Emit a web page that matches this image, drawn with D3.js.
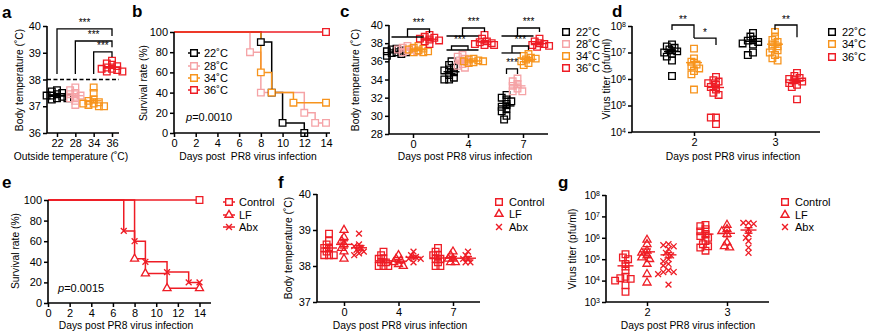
<!DOCTYPE html>
<html lang="en">
<head>
<meta charset="UTF-8">
<title>Housing temperature and PR8 infection</title>
<script src="https://d3js.org/d3.v7.min.js"></script>
<style>
  body { margin: 0; background: #fff; }
  svg { display: block; font-family: "Liberation Sans", Arial, Helvetica, sans-serif; }
</style>
</head>
<body>
<svg id="fig" width="869" height="335"></svg>
<script>
const FONT = '"Liberation Sans", Arial, Helvetica, sans-serif';
const BLACK = "#000000", PINK = "#f5a3a6", ORANGE = "#f7941d", RED = "#ee1c25";

// ---- a: body temperature vs housing temperature ----
const aHousing = ["22", "28", "34", "36"];
const aBody22 = [37.6, 37.55, 37.5, 37.45, 37.4, 37.4, 37.35, 37.3, 37.3, 37.25];
const aBody28 = [37.7, 37.6, 37.5, 37.45, 37.4, 37.35, 37.3, 37.2, 37.05];
const aBody34 = [37.7, 37.5, 37.25, 37.2, 37.15, 37.1, 37.1, 37.05, 37.0, 37.0];
const aBody36 = [38.7, 38.6, 38.55, 38.5, 38.45, 38.4, 38.4, 38.35, 38.3, 38.3];

// ---- b: survival by housing temperature ----
const bDays22 = [0, 8, 9, 10, 12],       bSurv22 = [100, 90, 40, 10, 0];
const bDays28 = [0, 7, 8, 12, 13, 14],   bSurv28 = [100, 80, 40, 20, 10, 10];
const bDays34 = [0, 8, 9, 11, 14],       bSurv34 = [100, 60, 40, 30, 30];
const bDays36 = [0, 14],                 bSurv36 = [100, 100];
const tempLabels = ["22˚C", "28˚C", "34˚C", "36˚C"];

// ---- c: body temperature after infection (days 0, 4, 7) ----
const cDays = [0, 4, 7];
const cBody22 = [[37.4, 37.3, 37.2, 37.1, 37.0, 37.0, 36.9, 36.8, 36.6],
                 [36.0, 35.6, 35.3, 35.1, 35.0, 34.8, 34.5, 34.2, 34.0, 34.0],
                 [32.3, 32.0, 31.8, 31.6, 31.3, 31.0, 30.8, 30.5, 30.0, 29.6]];
const cBody28 = [[37.7, 37.5, 37.4, 37.3, 37.2, 37.1, 37.0],
                 [36.7, 36.5, 36.3, 36.1, 35.9, 35.7, 35.5, 35.3],
                 [34.1, 33.8, 33.5, 33.3, 33.0, 32.7, 32.7]];
const cBody34 = [[37.7, 37.5, 37.4, 37.3, 37.2, 37.1, 37.0, 37.0],
                 [36.3, 36.2, 36.1, 36.0, 36.0, 35.9, 35.8],
                 [36.8, 36.6, 36.4, 36.3, 36.2, 36.0, 35.8, 35.6]];
const cBody36 = [[38.9, 38.7, 38.6, 38.5, 38.4, 38.3, 38.2, 37.9],
                 [38.9, 38.5, 38.2, 38.1, 38.0, 37.9, 37.8, 37.8],
                 [38.5, 38.2, 38.0, 37.9, 37.8, 37.7, 37.6]];

// ---- d: lung virus titer (days 2, 3) ----
const dDays = [2, 3];
const dLabels = ["22˚C", "34˚C", "36˚C"];
const dTiter22 = [[2e7, 1.7e7, 1.5e7, 1.3e7, 1.1e7, 1e7, 9e6, 7e6, 5e6, 1.3e6],
                  [5.5e7, 4e7, 3e7, 2.8e7, 2.5e7, 2.2e7, 2e7, 1e7, 8e6]];
const dTiter34 = [[1.4e7, 6e6, 4.5e6, 3.5e6, 3e6, 2.5e6, 2e6, 1.5e6, 4e5],
                  [6e7, 4e7, 3e7, 2.5e7, 2e7, 1.7e7, 1.4e7, 1.2e7, 1e7, 8e6, 6e6, 5e6]];
const dTiter36 = [[1.2e6, 9e5, 8e5, 7e5, 6e5, 5e5, 4e5, 3e5, 2.5e5, 3.5e4, 3.5e4, 2e4],
                  [1.7e6, 1.3e6, 1.1e6, 1e6, 9e5, 8e5, 7e5, 6e5, 5e5, 1.7e5]];

// ---- e: survival, Control / LF / Abx ----
const treatLabels = ["Control", "LF", "Abx"];
const eDaysControl = [0, 14],                 eSurvControl = [100, 100];
const eDaysLF = [0, 8, 9, 11, 14],            eSurvLF = [100, 42.9, 28.6, 14.3, 14.3];
const eDaysAbx = [0, 7, 8, 9, 11, 13, 14],    eSurvAbx = [100, 70, 60, 40, 30, 20, 20];

// ---- f: body temperature, Control / LF / Abx ----
const fDays = [0, 4, 7];
const fBodyControl = [[38.9, 38.7, 38.6, 38.5, 38.5, 38.4, 38.3, 38.3, 38.3],
                      [38.4, 38.3, 38.2, 38.2, 38.1, 38.1, 38.0, 38.0, 38.0],
                      [38.5, 38.4, 38.3, 38.3, 38.2, 38.2, 38.1, 38.0, 38.0]];
const fBodyLF = [[39.0, 38.8, 38.7, 38.6, 38.5, 38.4, 38.2],
                 [38.3, 38.2, 38.15, 38.1, 38.05, 38.0],
                 [38.4, 38.3, 38.2, 38.2, 38.1, 38.1]];
const fBodyAbx = [[38.9, 38.6, 38.55, 38.5, 38.45, 38.4, 38.35, 38.3],
                  [38.4, 38.3, 38.25, 38.2, 38.2, 38.1],
                  [38.4, 38.3, 38.2, 38.2, 38.1, 38.1]];

// ---- g: lung virus titer, Control / LF / Abx ----
const gDays = [2, 3];
const gTiterControl = [[1.7e5, 1.2e5, 1e5, 6e4, 3e4, 1.5e4, 1.3e4, 1.2e4, 1e4, 6e3, 3e3],
                       [4e6, 3.5e6, 2.5e6, 2e6, 1.5e6, 1.2e6, 1e6, 7e5, 5e5, 4e5, 3.5e5, 2.5e5]];
const gTiterLF = [[8e5, 5e5, 2.5e5, 2e5, 1.5e5, 1.2e5, 1e5, 6e4, 2e4, 8e3],
                  [4e6, 2.5e6, 2e6, 1.5e6, 6e5, 4e5, 3.5e5]];
const gTiterAbx = [[5e5, 4.5e5, 4e5, 3e5, 2e5, 1.5e5, 1e5, 8e4, 6e4, 5e4, 3e4, 2.5e4, 2.5e4, 2e4, 6.5e3],
                   [5e6, 5e6, 4.5e6, 2.5e6, 1.5e6, 1e6, 7e5, 3.5e5, 2e5]];

const svg = d3.select("#fig");

const sym = {
  square: d3.symbol().type(d3.symbolSquare).size(44)(),
  triangle: d3.symbol().type(d3.symbolTriangle).size(28)(),
  cross: d3.symbol().type(d3.symbolX).size(24)()
};

// ---------- helpers ----------
function frame(x0, x1, yBottom, yTop) {
  svg.append("path")
    .attr("d", `M${x0},${yTop}V${yBottom}H${x1}`)
    .attr("fill", "none").attr("stroke", "#000").attr("stroke-width", 1.6);
}

function styleAxis(g) {
  g.select(".domain").remove();
  g.selectAll(".tick line").attr("stroke", "#000").attr("stroke-width", 1.5);
  g.selectAll(".tick text").attr("fill", "#000").attr("font-size", 11).attr("font-family", FONT);
  return g;
}

function leftTicks(scale, x, values, fmt) {
  return styleAxis(svg.append("g").attr("transform", `translate(${x},0)`)
    .call(d3.axisLeft(scale).tickValues(values).tickSize(4).tickPadding(2).tickFormat(fmt || (d => d))));
}

function bottomTicks(scale, y, values) {
  const axis = d3.axisBottom(scale).tickSize(4).tickPadding(2);
  if (values) axis.tickValues(values);
  return styleAxis(svg.append("g").attr("transform", `translate(0,${y})`).call(axis));
}

// powers of ten written as 10 with a raised exponent
function logLabels(g) {
  g.selectAll(".tick text").attr("font-size", 10.5).each(function(d) {
    const t = d3.select(this).text("");
    t.append("tspan").text("10");
    t.append("tspan").attr("dy", "-0.45em").attr("font-size", 7).text(Math.round(Math.log10(d)));
  });
}

function letter(x, y, s) {
  svg.append("text").attr("x", x).attr("y", y).attr("font-size", 17)
    .attr("font-weight", "bold").attr("fill", "#000").text(s);
}

function xTitle(x, y, s) {
  svg.append("text").attr("x", x).attr("y", y).attr("text-anchor", "middle")
    .attr("font-size", 10.3).attr("fill", "#000").style("white-space", "pre").text(s);
}

function yTitle(x, y, s) {
  svg.append("text").attr("transform", `translate(${x},${y}) rotate(-90)`)
    .attr("text-anchor", "middle").attr("font-size", 10.3).attr("fill", "#000").text(s);
}

// spread points sideways so the markers do not stack on top of each other
function swarm(pys, cx, step, minDist) {
  const placed = [];
  const order = d3.range(pys.length).sort((i, j) => pys[i] - pys[j]);
  const xs = new Array(pys.length);
  for (const i of order) {
    let bestOff = 0, bestGap = -1;
    for (let k = 0; k < 9; k++) {
      const off = (k % 2 ? -1 : 1) * Math.ceil(k / 2) * step;
      let gap = Infinity;
      for (const p of placed) gap = Math.min(gap, Math.hypot(p[0] - (cx + off), p[1] - pys[i]));
      if (gap >= minDist) { bestOff = off; break; }
      if (gap > bestGap) { bestGap = gap; bestOff = off; }
    }
    xs[i] = cx + bestOff;
    placed.push([xs[i], pys[i]]);
  }
  return xs;
}

function dots(values, cx, y, color, shape, step, minDist) {
  const pys = values.map(y);
  const xs = swarm(pys, cx, step, minDist);
  svg.append("g").selectAll("path").data(values).join("path")
    .attr("d", sym[shape])
    .attr("transform", (d, i) => `translate(${xs[i]},${pys[i]})`)
    .attr("fill", "none").attr("stroke", color).attr("stroke-width", 1.3);
  // mean with SEM
  const m = d3.mean(values), se = d3.deviation(values) / Math.sqrt(values.length);
  const g = svg.append("g").attr("stroke", color).attr("stroke-width", 1.4);
  g.append("line").attr("x1", cx - 8).attr("x2", cx + 8).attr("y1", y(m)).attr("y2", y(m));
  g.append("line").attr("x1", cx).attr("x2", cx).attr("y1", y(m - se)).attr("y2", y(m + se));
  g.append("line").attr("x1", cx - 4).attr("x2", cx + 4).attr("y1", y(m - se)).attr("y2", y(m - se));
  g.append("line").attr("x1", cx - 4).attr("x2", cx + 4).attr("y1", y(m + se)).attr("y2", y(m + se));
}

function seg(x1, x2, yv) {
  svg.append("line").attr("x1", x1).attr("x2", x2).attr("y1", yv).attr("y2", yv)
    .attr("stroke", "#000").attr("stroke-width", 1.3);
}

function bracket(x1, x2, yTop, foot1, foot2, label) {
  const p = d3.path();
  if (foot1 != null) { p.moveTo(x1, foot1); p.lineTo(x1, yTop); } else p.moveTo(x1, yTop);
  p.lineTo(x2, yTop);
  if (foot2 != null) p.lineTo(x2, foot2);
  svg.append("path").attr("d", p.toString()).attr("fill", "none")
    .attr("stroke", "#000").attr("stroke-width", 1.3);
  svg.append("text").attr("x", (x1 + x2) / 2).attr("y", yTop - 2.5)
    .attr("text-anchor", "middle").attr("font-size", 10).attr("fill", "#000").text(label);
}

function survival(x, y, curves) {
  const line = d3.line().x(d => x(d[0])).y(d => y(d[1])).curve(d3.curveStepAfter);
  curves.forEach(c => {
    svg.append("path").datum(d3.zip(c.days, c.surv)).attr("d", line)
      .attr("fill", "none").attr("stroke", c.color).attr("stroke-width", 1.5);
  });
  curves.forEach(c => {
    svg.append("g").selectAll("path").data(d3.zip(c.days, c.surv).slice(1)).join("path")
      .attr("d", sym[c.shape])
      .attr("transform", d => `translate(${x(d[0])},${y(d[1])})`)
      .attr("fill", c.shape === "cross" ? "none" : "#fff")
      .attr("stroke", c.color).attr("stroke-width", 1.3);
  });
}

function legend(x, ys, labels, colors, shapes, withLine) {
  labels.forEach((lab, i) => {
    if (withLine) {
      svg.append("line").attr("x1", x - 6).attr("x2", x + 6).attr("y1", ys[i]).attr("y2", ys[i])
        .attr("stroke", colors[i]).attr("stroke-width", 1.5);
    }
    svg.append("path").attr("d", sym[shapes[i]]).attr("transform", `translate(${x},${ys[i]})`)
      .attr("fill", withLine && shapes[i] !== "cross" ? "#fff" : "none")
      .attr("stroke", colors[i]).attr("stroke-width", 1.4);
    svg.append("text").attr("x", x + 10).attr("y", ys[i] + 4)
      .attr("font-size", 11).attr("fill", "#000").text(lab);
  });
}

function pValue(x, y, v) {
  const t = svg.append("text").attr("x", x).attr("y", y).attr("font-size", 11).attr("fill", "#000");
  t.append("tspan").attr("font-style", "italic").text("p");
  t.append("tspan").text("=" + v);
}

// ---------- a ----------
{
  const x = d3.scalePoint().domain(aHousing).range([57, 112]);
  const y = d3.scaleLinear().domain([36, 40]).range([133, 26]);
  svg.append("line").attr("x1", 47).attr("x2", 119).attr("y1", y(38)).attr("y2", y(38))
    .attr("stroke", "#000").attr("stroke-width", 1.5).attr("stroke-dasharray", "4,2.5");
  [aBody22, aBody28, aBody34, aBody36].forEach((vals, i) =>
    dots(vals, x(aHousing[i]), y, [BLACK, PINK, ORANGE, RED][i], "square", 2.6, 4));
  frame(47, 119, 133, 26);
  leftTicks(y, 47, [36, 37, 38, 39, 40]);
  bottomTicks(x, 133);
  bracket(x("22"), x("36"), y(39.89), y(38.21), y(39.63), "***");
  bracket(x("28"), x("36"), y(39.44), y(38.21), y(39.21), "***");
  bracket(x("34"), x("36"), y(39.03), y(38.21), y(38.84), "***");
  letter(2, 18, "a");
  yTitle(23, 80, "Body temperature (˚C)");
  xTitle(71, 160, "Outside temperature (˚C)");
}

// ---------- b ----------
{
  const x = d3.scaleLinear().domain([0, 14]).range([174, 326]);
  const y = d3.scaleLinear().domain([0, 100]).range([133, 32]);
  survival(x, y, [
    { days: bDays22, surv: bSurv22, color: BLACK, shape: "square" },
    { days: bDays28, surv: bSurv28, color: PINK, shape: "square" },
    { days: bDays34, surv: bSurv34, color: ORANGE, shape: "square" },
    { days: bDays36, surv: bSurv36, color: RED, shape: "square" }
  ]);
  frame(174, 330, 133, 32);
  leftTicks(y, 174, [0, 20, 40, 60, 80, 100]);
  bottomTicks(x, 133, d3.range(0, 15, 2));
  legend(194, [53, 66, 78, 90], tempLabels, [BLACK, PINK, ORANGE, RED],
    ["square", "square", "square", "square"], true);
  pValue(186, 121, "0.0010");
  letter(132, 17, "b");
  yTitle(147, 83, "Survival rate (%)");
  xTitle(248, 160, "Days post  PR8 virus infection");
}

// ---------- c ----------
{
  const x = d3.scalePoint().domain(cDays).range([413, 523]);
  const y = d3.scaleLinear().domain([28, 40]).range([134, 25]);
  const off = [-16.5, -5.5, 5.5, 16.5];
  const cols = [BLACK, PINK, ORANGE, RED];
  [cBody22, cBody28, cBody34, cBody36].forEach((series, s) =>
    series.forEach((vals, d) => dots(vals, x(cDays[d]) + off[s], y, cols[s], "square", 2.4, 4)));
  frame(389, 548, 134, 25);
  leftTicks(y, 389, [28, 30, 32, 34, 36, 38, 40]);
  bottomTicks(x, 134);
  const px = (day, s) => x(day) + off[s];
  cDays.forEach(day => {
    const t = day === 0 ? 0 : 0.11;
    seg(px(day, 0) - 5, px(day, 2) + 5, y(38.68 + t));
    bracket((px(day, 0) + px(day, 2)) / 2, px(day, 3), y(39.56 + t), y(38.68 + t), y(39.12 + t), "***");
  });
  seg(px(4, 0) - 5, px(4, 2) + 5, y(37.25));
  bracket(px(4, 0), (px(4, 1) + px(4, 2)) / 2, y(37.69), y(37.25), y(37.25), "***");
  seg(px(7, 0) - 5, px(7, 1) + 3, y(36.92));
  bracket((px(7, 0) + px(7, 1)) / 2, px(7, 2), y(37.69), y(36.92), y(37.25), "***");
  bracket(px(7, 0), px(7, 1), y(35.16), y(34.6), y(34.6), "***");
  legend(566, [32, 44, 56, 68], tempLabels, cols, ["square", "square", "square", "square"], false);
  letter(340, 17, "c");
  yTitle(359, 80, "Body temperature (˚C)");
  xTitle(465, 160, "Days post PR8 virus infection");
}

// ---------- d ----------
{
  const x = d3.scalePoint().domain(dDays).range([694, 775]);
  const y = d3.scaleLog().domain([1e4, 1e8]).range([132, 26]);
  const off = [-22, 0, 22];
  const cols = [BLACK, ORANGE, RED];
  [dTiter22, dTiter34, dTiter36].forEach((series, s) =>
    series.forEach((vals, d) => dots(vals, x(dDays[d]) + off[s], y, cols[s], "square", 2.6, 4)));
  frame(632, 820, 132, 26);
  logLabels(leftTicks(y, 632, [1e4, 1e5, 1e6, 1e7, 1e8]));
  bottomTicks(x, 132);
  bracket(x(2) - 22, x(2), y(1.09e8), y(7e7), y(3.5e7), "**");
  bracket(x(2), x(2) + 22, y(3.5e7), null, y(1.9e7), "*");
  bracket(x(3), x(3) + 22, y(1.09e8), y(7e7), y(3.8e7), "**");
  legend(832, [32, 44, 57], dLabels, cols, ["square", "square", "square"], false);
  letter(612, 17, "d");
  yTitle(610, 79, "Virus titer (pfu/ml)");
  xTitle(733, 160, "Days post PR8 virus infection");
}

// ---------- e ----------
{
  const x = d3.scaleLinear().domain([0, 14]).range([48, 199.5]);
  const y = d3.scaleLinear().domain([0, 100]).range([303, 200]);
  survival(x, y, [
    { days: eDaysAbx, surv: eSurvAbx, color: RED, shape: "cross" },
    { days: eDaysLF, surv: eSurvLF, color: RED, shape: "triangle" },
    { days: eDaysControl, surv: eSurvControl, color: RED, shape: "square" }
  ]);
  frame(48, 211, 303, 200);
  leftTicks(y, 48, [0, 20, 40, 60, 80, 100]);
  bottomTicks(x, 303, d3.range(0, 15, 2));
  legend(229, [202, 215, 227], treatLabels, [RED, RED, RED], ["square", "triangle", "cross"], true);
  pValue(58, 292, "0.0015");
  letter(2, 188, "e");
  yTitle(19, 251, "Survival rate (%)");
  xTitle(126, 329, "Days post PR8 virus infection");
}

// ---------- f ----------
{
  const x = d3.scalePoint().domain(fDays).range([344, 453]);
  const y = d3.scaleLinear().domain([37, 40]).range([302, 194]);
  const off = [-15, 0, 15];
  const shapes = ["square", "triangle", "cross"];
  [fBodyControl, fBodyLF, fBodyAbx].forEach((series, s) =>
    series.forEach((vals, d) => dots(vals, x(fDays[d]) + off[s], y, RED, shapes[s], 2.4, 4)));
  frame(317, 480, 302, 194);
  leftTicks(y, 317, [37, 38, 39, 40]);
  bottomTicks(x, 302);
  legend(499, [202, 214, 227], treatLabels, [RED, RED, RED], shapes, false);
  letter(278, 188, "f");
  yTitle(292, 248, "Body temperature (˚C)");
  xTitle(400, 329, "Days post PR8 virus infection");
}

// ---------- g ----------
{
  const x = d3.scalePoint().domain(gDays).range([647, 727]);
  const y = d3.scaleLog().domain([1e3, 1e8]).range([302, 195]);
  const off = [-21.5, 0, 21.5];
  const shapes = ["square", "triangle", "cross"];
  [gTiterControl, gTiterLF, gTiterAbx].forEach((series, s) =>
    series.forEach((vals, d) => dots(vals, x(gDays[d]) + off[s], y, RED, shapes[s], 2.6, 4)));
  frame(606, 769, 302, 195);
  logLabels(leftTicks(y, 606, [1e3, 1e4, 1e5, 1e6, 1e7, 1e8]));
  bottomTicks(x, 302);
  legend(785, [202, 215, 227], treatLabels, [RED, RED, RED], shapes, false);
  letter(558, 188, "g");
  yTitle(576, 249, "Virus titer (pfu/ml)");
  xTitle(688, 329, "Days post PR8 virus infection");
}
</script>
</body>
</html>
